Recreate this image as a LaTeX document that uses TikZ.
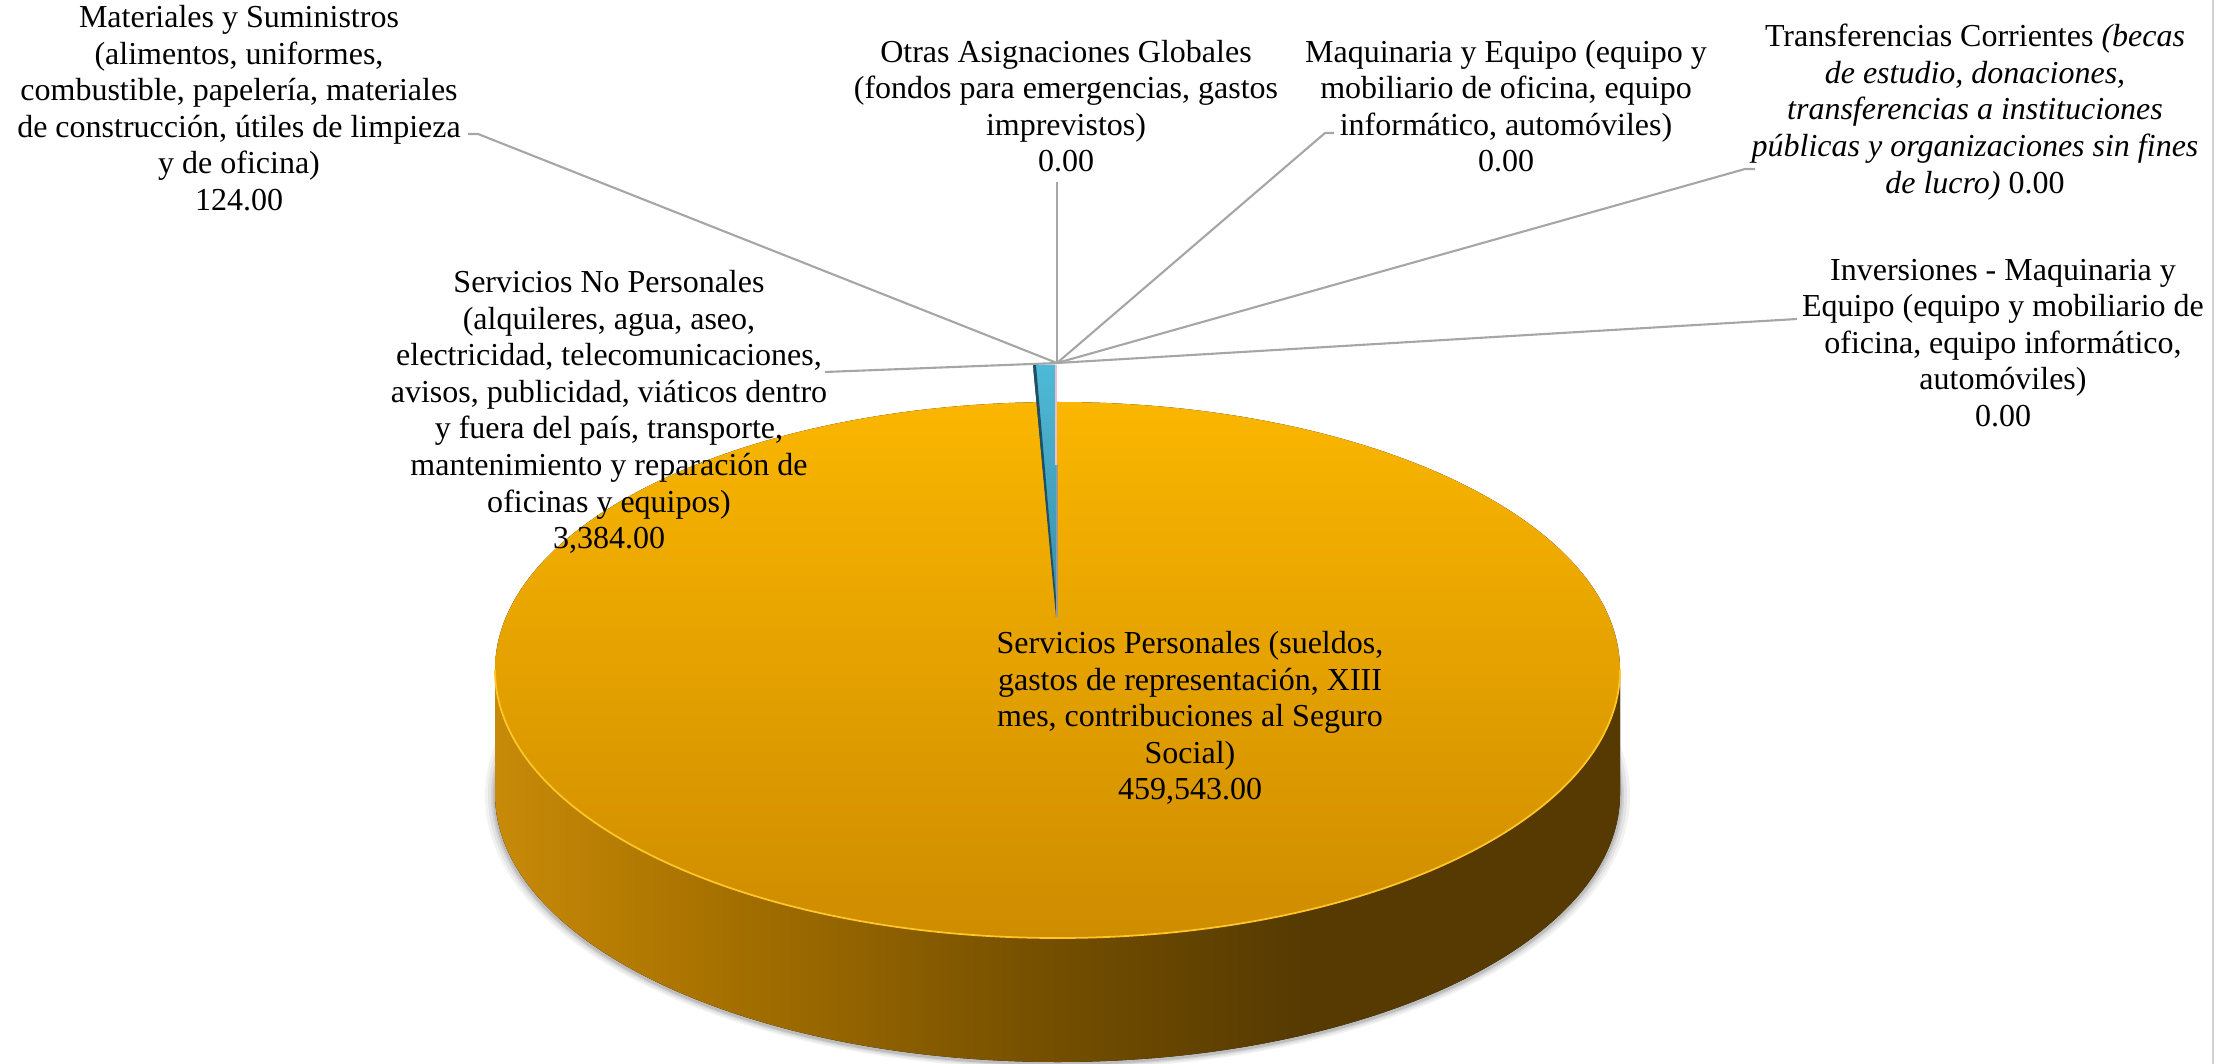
\documentclass[tikz,border=0pt]{standalone}
\usepackage{fontspec}
\setmainfont{Liberation Serif}
\definecolor{topA}{RGB}{250,182,0}
\definecolor{topB}{RGB}{206,140,0}
\definecolor{sA}{RGB}{200,138,8}
\definecolor{sB}{RGB}{170,115,0}
\definecolor{sC}{RGB}{118,80,0}
\definecolor{sD}{RGB}{86,58,2}
\definecolor{blueA}{RGB}{78,186,215}
\definecolor{blueB}{RGB}{58,140,166}
\definecolor{blueD}{RGB}{32,78,98}
\definecolor{leader}{RGB}{166,166,166}
\definecolor{rim}{RGB}{255,198,40}
\definecolor{pinkl}{RGB}{240,190,202}
\pgfdeclarehorizontalshading{sidesh}{100bp}{color(0bp)=(sA); color(25bp)=(sA); color(34bp)=(sB); color(49bp)=(sC); color(61bp)=(sD); color(75bp)=(sD); color(100bp)=(sD)}
\begin{document}
\begin{tikzpicture}[x=0.01cm,y=-0.01cm,
  lbl/.style={inner sep=0pt, align=center, font=\fontsize{9.1}{10.4}\selectfont},
  leaderline/.style={draw=leader, line width=0.6pt}]
\useasboundingbox (0,0) rectangle (2218,1064);
% right border
\draw[draw=black!18, line width=0.6pt] (2213,0) -- (2213,1064);
% soft shadow
\foreach \d/\o in {10/0.05,7/0.06,4/0.08,2/0.10}{
  \fill[black,opacity=\o] (1057.5,796) ellipse [x radius=562.5+\d, y radius=268+\d*0.5];
}
% side wall
\fill[shading=sidesh] (495,670) -- (495,794)
  arc[start angle=180,end angle=0,x radius=562.5,y radius=268]
  -- (1620,670)
  arc[start angle=0,end angle=180,x radius=562.5,y radius=268] -- cycle;
% top face
\fill[top color=topA, bottom color=topB] (1057.5,670) ellipse [x radius=562.5, y radius=268];
\draw[rim, line width=0.5pt] (1620,670) arc[start angle=0,end angle=180,x radius=562.5,y radius=268];
% small blue slice at the back
\fill[top color=blueA, bottom color=blueB] (1033,365) -- (1055,365) -- (1057,470) -- (1057,617) -- cycle;
\fill[blueD] (1033,365) -- (1036,365) -- (1057,610) -- (1056,617) -- cycle;
\draw[pinkl, line width=0.6pt] (1056.2,365) -- (1056.2,465);
\draw[black!40, line width=0.4pt] (1057,465) -- (1057,617);
% hub of leader lines
\coordinate (hub) at (1057,363);
% labels
\node[lbl] (mat) at (239,108) {Materiales y Suministros\\(alimentos, uniformes,\\combustible, papelería, materiales\\de construcción, útiles de limpieza\\y de oficina)\\124.00};
\node[lbl] (otras) at (1066,106) {Otras Asignaciones Globales\\(fondos para emergencias, gastos\\imprevistos)\\0.00};
\node[lbl] (maq) at (1506,106) {Maquinaria y Equipo (equipo y\\mobiliario de oficina, equipo\\informático, automóviles)\\0.00};
\node[lbl] (trans) at (1975,112) {Transferencias Corrientes \textit{(becas}\\\textit{de estudio, donaciones,}\\\textit{transferencias a instituciones}\\\textit{públicas y organizaciones sin fines}\\\textit{de lucro)} 0.00};
\node[lbl] (inv) at (2003,343) {Inversiones - Maquinaria y\\Equipo (equipo y mobiliario de\\oficina, equipo informático,\\automóviles)\\0.00};
\node[lbl] (snp) at (609,412) {Servicios No Personales\\(alquileres, agua, aseo,\\electricidad, telecomunicaciones,\\avisos, publicidad, viáticos dentro\\y fuera del país, transporte,\\mantenimiento y reparación de\\oficinas y equipos)\\3,384.00};
\node[lbl] (sp) at (1190,718) {Servicios Personales (sueldos,\\gastos de representación, XIII\\mes, contribuciones al Seguro\\Social)\\459,543.00};
% leader line ends
\coordinate (matL) at (468,134);
\coordinate (otrasL) at (1057,182);
\coordinate (maqL) at (1334,133);
\coordinate (transL) at (1755,169);
\coordinate (invL) at (1797,319);
\coordinate (snpL) at (825,372);
\draw[leaderline] (matL) -- ++(10,0) -- (hub);
\draw[leaderline] (otrasL) -- (hub);
\draw[leaderline] (maqL) -- ++(-9,0) -- (hub);
\draw[leaderline] (transL) -- ++(-10,0) -- (hub);
\draw[leaderline] (invL) -- (hub);
\draw[leaderline] (snpL) -- (hub);
\end{tikzpicture}
\end{document}
